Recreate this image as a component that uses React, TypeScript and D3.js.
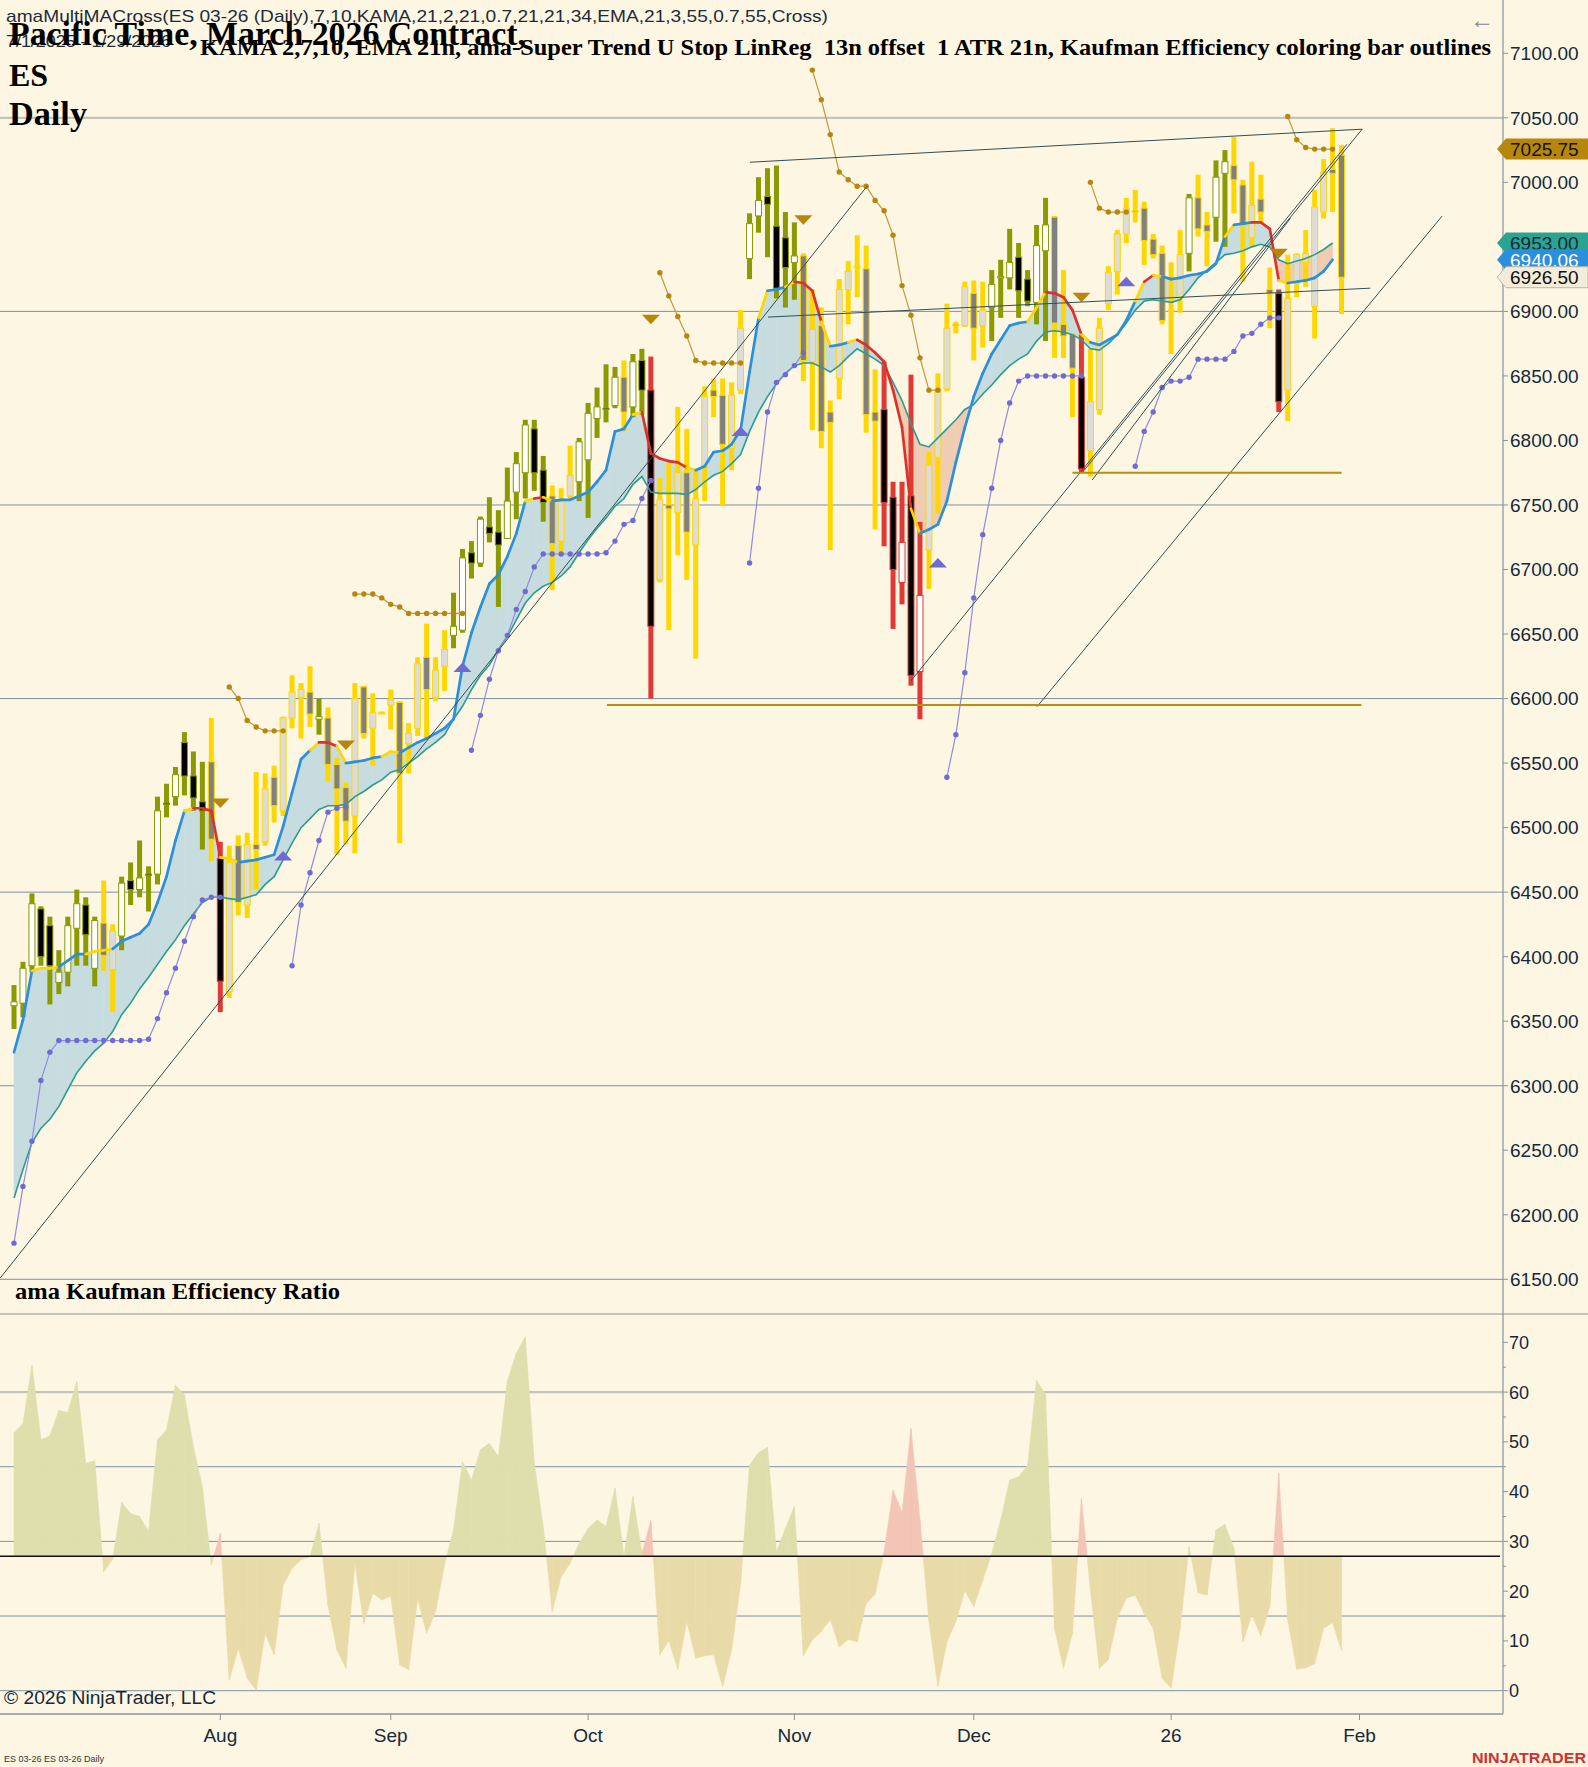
import { useEffect, useRef } from 'react';
import * as d3 from 'd3';

const W = 1588;
const H = 1767;
const BG = '#fdf6e3';

// daily bars, oldest first
const OPEN = [
  6362, 6364, 6393, 6437, 6424, 6380, 6388, 6422, 6440, 6391,
  6426, 6390, 6416, 6459, 6452, 6464, 6464, 6519, 6524, 6566,
  6540, 6520, 6551, 6476, 6373, 6486, 6440, 6487, 6489, 6539,
  6513, 6585, 6601, 6605, 6584, 6585, 6549, 6531, 6509, 6609,
  6577, 6589, 6595, 6597, 6565, 6577, 6632, 6601, 6625, 6649,
  6653, 6713, 6705, 6733, 6729, 6724, 6760, 6775, 6809, 6777,
  6757, 6722, 6757, 6768, 6785, 6817, 6825, 6827, 6849, 6826,
  6862, 6839, 6692, 6750, 6744, 6775, 6719, 6780, 6839, 6835,
  6794, 6839, 6941, 6974, 6989, 6966, 6957, 6938, 6943, 6861,
  6889, 6822, 6848, 6917, 6934, 6933, 6822, 6824, 6756, 6690,
  6757, 6621, 6715, 6787, 6840, 6890, 6889, 6914, 6889, 6903,
  6926, 6926, 6942, 6925, 6907, 6947, 6973, 6890, 6882, 6849,
  6792, 6824, 6906, 6931, 6960, 6978, 6980, 6956, 6945, 6900,
  6911, 6945, 6988, 6967, 6973, 7007, 7013, 6998, 6957, 6987,
  6917, 6914, 6839, 6922, 6938, 6904, 6977, 7010, 7021,
];
const HIGH = [
  6378, 6396, 6449, 6439, 6431, 6405, 6431, 6452, 6446, 6431,
  6459, 6425, 6462, 6473, 6490, 6470, 6524, 6534, 6547, 6574,
  6559, 6551, 6585, 6489, 6486, 6494, 6496, 6543, 6542, 6548,
  6586, 6618, 6612, 6625, 6600, 6593, 6554, 6535, 6612, 6610,
  6604, 6590, 6607, 6598, 6581, 6632, 6658, 6632, 6653, 6682,
  6716, 6722, 6741, 6756, 6746, 6779, 6791, 6816, 6816, 6788,
  6765, 6763, 6796, 6802, 6829, 6841, 6859, 6857, 6862, 6867,
  6871, 6865, 6771, 6782, 6826, 6809, 6776, 6842, 6848, 6848,
  6845, 6901, 6976, 7004, 7011, 7013, 6977, 6969, 6945, 6917,
  6903, 6831, 6925, 6939, 6959, 6951, 6855, 6861, 6768, 6768,
  6851, 6737, 6791, 6852, 6906, 6892, 6923, 6924, 6923, 6932,
  6940, 6964, 6953, 6932, 6967, 6988, 6974, 6932, 6883, 6882,
  6871, 6895, 6935, 6963, 6988, 6994, 6985, 6960, 6951, 6938,
  6963, 6991, 7006, 6977, 7017, 7025, 7035, 7002, 7016, 7006,
  6934, 6917, 6944, 6945, 6963, 6994, 7018, 7042, 7029,
];
const LOW = [
  6344, 6353, 6388, 6393, 6363, 6371, 6377, 6393, 6393, 6377,
  6389, 6357, 6405, 6440, 6446, 6435, 6456, 6508, 6517, 6525,
  6513, 6483, 6474, 6357, 6368, 6432, 6430, 6452, 6486, 6504,
  6509, 6577, 6569, 6578, 6572, 6536, 6479, 6487, 6480, 6569,
  6548, 6588, 6576, 6488, 6542, 6571, 6569, 6598, 6606, 6639,
  6651, 6693, 6702, 6721, 6671, 6724, 6739, 6755, 6761, 6737,
  6684, 6711, 6755, 6753, 6740, 6802, 6814, 6825, 6807, 6818,
  6820, 6600, 6690, 6653, 6711, 6692, 6631, 6753, 6818, 6750,
  6777, 6836, 6925, 6961, 6942, 6910, 6903, 6909, 6846, 6808,
  6794, 6715, 6832, 6890, 6911, 6806, 6731, 6718, 6654, 6673,
  6610, 6584, 6685, 6743, 6838, 6883, 6888, 6862, 6872, 6877,
  6895, 6917, 6895, 6904, 6890, 6877, 6864, 6864, 6818, 6775,
  6772, 6820, 6901, 6913, 6953, 6969, 6936, 6941, 6890, 6867,
  6899, 6931, 6958, 6935, 6954, 6950, 6976, 6923, 6950, 6969,
  6887, 6822, 6815, 6911, 6919, 6879, 6972, 6977, 6898,
];
const CLOSE = [
  6365, 6391, 6441, 6400, 6393, 6388, 6424, 6441, 6417, 6428,
  6401, 6420, 6457, 6452, 6461, 6463, 6513, 6518, 6541, 6540,
  6523, 6513, 6491, 6381, 6473, 6442, 6487, 6483, 6530, 6517,
  6585, 6605, 6607, 6588, 6586, 6549, 6530, 6505, 6600, 6573,
  6589, 6589, 6599, 6542, 6573, 6627, 6607, 6622, 6638, 6656,
  6709, 6705, 6739, 6728, 6719, 6753, 6782, 6812, 6775, 6752,
  6720, 6753, 6773, 6799, 6821, 6826, 6824, 6849, 6822, 6861,
  6839, 6656, 6754, 6747, 6775, 6729, 6755, 6834, 6834, 6797,
  6835, 6887, 6968, 6986, 6983, 6918, 6934, 6943, 6862, 6886,
  6807, 6814, 6917, 6931, 6935, 6820, 6815, 6752, 6700, 6721,
  6618, 6680, 6781, 6839, 6887, 6889, 6919, 6887, 6901, 6921,
  6927, 6938, 6916, 6908, 6951, 6967, 6891, 6881, 6856, 6778,
  6830, 6887, 6930, 6960, 6980, 6977, 6955, 6944, 6893, 6901,
  6944, 6988, 6964, 6962, 7004, 7016, 7002, 6967, 6982, 6977,
  6914, 6830, 6910, 6944, 6945, 6981, 7008, 7007, 6926.5,
];
// Kaufman efficiency outline class per bar: g up-efficient, r down-efficient, y inefficient
const BAR_CLASS_RUNS: [string, number][] = [
  ['g', 10], ['y', 2], ['g', 10], ['y', 1], ['r', 1], ['y', 10], ['g', 1], ['y', 14], ['g', 11], ['y', 3],
  ['g', 5], ['y', 1], ['g', 2], ['r', 1], ['y', 10], ['g', 6], ['y', 9], ['r', 5], ['y', 7], ['g', 7],
  ['y', 3], ['r', 1], ['y', 11], ['g', 1], ['y', 2], ['g', 2], ['y', 5], ['r', 1], ['y', 7],
];

const KAMA = [
  6326, 6351, 6389, 6391, 6391, 6392, 6397, 6402, 6402, 6404,
  6405, 6406, 6412, 6415, 6418, 6425, 6442, 6462, 6490, 6513,
  6515, 6515, 6513, 6477, 6476, 6473, 6474, 6475, 6477, 6479,
  6501, 6527, 6553, 6560, 6566, 6566, 6563, 6550, 6551, 6552,
  6554, 6555, 6559, 6558, 6562, 6566, 6569, 6573, 6577, 6584,
  6625, 6651, 6671, 6689, 6696, 6710, 6728, 6753, 6755, 6756,
  6753, 6754, 6754, 6757, 6760, 6768, 6777, 6807, 6809, 6820,
  6822, 6790, 6786, 6784, 6783, 6779, 6777, 6780, 6791, 6792,
  6797, 6808, 6853, 6895, 6916, 6917, 6919, 6923, 6922, 6916,
  6892, 6873, 6874, 6876, 6878, 6874, 6868, 6861, 6839, 6810,
  6747, 6728, 6731, 6735, 6753, 6783, 6810, 6834, 6852, 6867,
  6878, 6889, 6891, 6892, 6903, 6915, 6914, 6911, 6901, 6882,
  6876, 6874, 6878, 6882, 6893, 6908, 6923, 6928, 6927, 6925,
  6926, 6928, 6929, 6931, 6937, 6958, 6967, 6968, 6969, 6969,
  6964, 6924, 6922, 6923, 6924, 6926, 6931, 6940.06,
];
// KAMA segment colour ending at each bar: b rising, r falling, y flat
const KAMA_RUNS: [string, number][] = [
  ['b', 3], ['y', 3], ['b', 3], ['y', 3], ['b', 8], ['y', 1], ['r', 3], ['y', 2], ['b', 8], ['y', 1],
  ['r', 2], ['y', 1], ['b', 4], ['y', 2], ['b', 14], ['y', 1], ['r', 1], ['y', 1], ['b', 9], ['y', 1],
  ['r', 5], ['y', 1], ['b', 7], ['y', 1], ['b', 2], ['y', 1], ['r', 3], ['y', 1], ['b', 2], ['y', 1],
  ['r', 6], ['y', 1], ['b', 12], ['y', 2], ['r', 4], ['y', 1], ['b', 5], ['y', 1], ['r', 1], ['y', 1],
  ['b', 7], ['y', 1], ['b', 2], ['r', 3], ['y', 1], ['b', 5],
];
const EMA = [
  6213, 6235, 6256, 6267, 6274, 6284, 6297, 6310, 6319, 6327,
  6333, 6342, 6355, 6364, 6375, 6384, 6394, 6404, 6413, 6424,
  6433, 6442, 6446, 6446, 6445, 6444, 6446, 6448, 6456, 6462,
  6475, 6488, 6500, 6507, 6514, 6517, 6517, 6518, 6524, 6528,
  6533, 6537, 6543, 6545, 6550, 6555, 6561, 6566, 6572, 6584,
  6594, 6607, 6618, 6626, 6638, 6648, 6661, 6674, 6682, 6687,
  6690, 6695, 6702, 6713, 6723, 6732, 6740, 6749, 6755, 6766,
  6772, 6760, 6759, 6759, 6759, 6758, 6762, 6768, 6773, 6776,
  6782, 6789, 6807, 6822, 6834, 6844, 6852, 6858, 6860, 6860,
  6857, 6853, 6858, 6865, 6871, 6867, 6863, 6858, 6845, 6831,
  6813, 6797, 6795, 6802, 6809, 6816, 6824, 6828, 6836, 6843,
  6851, 6858, 6863, 6867, 6877, 6884, 6885, 6884, 6882, 6878,
  6871, 6870, 6875, 6882, 6891, 6901, 6908, 6909, 6908, 6907,
  6909, 6917, 6926, 6932, 6938, 6944, 6945, 6947, 6950, 6952,
  6950, 6940, 6937, 6939, 6941, 6944, 6948, 6953,
];
// super trend stop; p = long stop under price, g = short stop over price
const STOP = [
  6178, 6222, 6257, 6304, 6326, 6335, 6335, 6335, 6335, 6335,
  6335, 6335, 6335, 6335, 6335, 6336, 6352, 6372, 6391, 6412,
  6431, 6444, 6446, 6446, 6609, 6600, 6583, 6578, 6575, 6575,
  6575, 6393, 6440, 6465, 6490, 6512, 6515, 6516, 6681, 6681,
  6681, 6678, 6673, 6671, 6666, 6666, 6666, 6666, 6666, 6666,
  6666, 6560, 6587, 6615, 6637, 6649, 6669, 6683, 6702, 6712,
  6712, 6712, 6712, 6712, 6712, 6712, 6713, 6722, 6735, 6738,
  6755, 6769, 6930, 6912, 6896, 6881, 6862, 6860, 6860, 6860,
  6860, 6860, 6705, 6763, 6822, 6845, 6851, 6858, 6868, 7087,
  7064, 7037, 7008, 7002, 6997, 6997, 6986, 6978, 6959, 6920,
  6897, 6864, 6839, 6839, 6539, 6572, 6620, 6678, 6727, 6763,
  6800, 6829, 6846, 6850, 6850, 6850, 6850, 6850, 6850, 6850,
  7000, 6980, 6977, 6977, 6977, 6780, 6807, 6822, 6841, 6846,
  6846, 6849, 6863, 6863, 6863, 6863, 6869, 6881, 6883, 6890,
  6895, 6895, 7051, 7033, 7027, 7025.75, 7025.75, 7025.75,
];
const STOP_RUNS: [string, number][] = [
  ['p', 24], ['g', 7], ['p', 7], ['g', 13], ['p', 21], ['g', 10], ['p', 7], ['g', 15], ['p', 16], ['g', 5], ['p', 17], ['g', 6],
];
// trend flips (bar number, price, direction)
const FLIP_BARS = [24, 31, 38, 51, 72, 82, 89, 104, 120, 125, 142];
const FLIP_PRICES = [6519, 6478, 6564, 6624, 6894, 6807, 6971, 6705, 6911, 6923, 6945];
const FLIP_DIRS = ['down', 'up', 'down', 'up', 'down', 'up', 'down', 'up', 'down', 'up', 'down'];

// drawn trend/channel lines: [bar0, price0, bar1, price1] (bar is 0-based position)
const TREND_LINES: [number, number, number, number][] = [
  [-1.56, 6150.8, 95.1, 6997],
  [82.05, 7015.6, 150.3, 7041.2],
  [84.06, 6895.6, 151.2, 6918],
  [100.0, 6613.8, 148.6, 7029.5],
  [119.06, 6774.8, 150.3, 7041.2],
  [120.2, 6769.4, 142.3, 6972.2],
  [114.05, 6593.7, 159.2, 6973.8],
];
const LEVEL_PRICES = [6595, 6775];
const LEVEL_FROM = [66.1, 118];
const LEVEL_TO = [150.2, 148];

const EFFICIENCY = [
  51.8, 53.7, 65.4, 50.4, 51.2, 56.3, 55.9, 62.1, 45.7, 46.2,
  23.9, 26.4, 37.8, 35.6, 35, 32, 50.4, 52.4, 61.4, 59.4,
  49, 41, 25.3, 31.6, 2.1, 8.5, 2.5, 0.1, 11.5, 7.2,
  21.2, 24.6, 26.3, 26.9, 33.6, 17.2, 8.2, 4.5, 25.6, 13.5,
  19.6, 18.2, 19, 5.2, 4.2, 18.5, 11.5, 15.9, 25.3, 32.3,
  46, 42.3, 48.4, 49.7, 47, 62.1, 67.8, 71.1, 45.7, 33,
  15.9, 22.9, 25.6, 29.6, 32.6, 34.3, 33, 40.7, 26.9, 39,
  27.6, 34.2, 7.2, 10.1, 4.3, 13.9, 6.5, 7, 7.2, 0.8,
  8.2, 21.5, 45.3, 47.8, 48.9, 27.9, 32.6, 37, 7, 10.2,
  11.9, 14.3, 8.8, 10.3, 9.8, 17.5, 19.4, 27.8, 40.3, 35.8,
  52.7, 34.3, 13.9, 0.8, 9.8, 13.9, 20.1, 16.9, 22.2, 27.5,
  34.3, 42.3, 43, 45.3, 62.4, 59.4, 12.5, 4.5, 11.5, 38.6,
  20.2, 4.5, 6.2, 14.5, 18.6, 19.2, 15.5, 12.5, 2.5, 0.5,
  12.5, 28.9, 19.7, 19.2, 32.3, 33.4, 28.6, 9.8, 15.2, 11,
  16.9, 43.7, 14.2, 4.3, 4.6, 5.4, 12.5, 13.7, 8,
];
const EFF_THRESHOLD = 27;

const MONTH_POS = [23, 42, 64, 87, 107, 129, 150];
const MONTH_LABELS = ['Aug', 'Sep', 'Oct', 'Nov', 'Dec', '26', 'Feb'];

const BAR_COLORS: Record<string, string> = { g: '#8a9a00', y: '#ffd700', r: '#e03a36' };
const KAMA_COLORS: Record<string, string> = { b: '#2b8fdc', r: '#e0302c', y: '#ffd700' };
const SANS = '"Liberation Sans", Arial, sans-serif';
const SERIF = '"Liberation Serif", "Times New Roman", serif';

const expand = (runs: [string, number][]) => runs.flatMap(([c, k]) => Array(k).fill(c) as string[]);

type Seg = { pts: [number, number][]; up: boolean; owner: number };
// polygons between two series, split where they cross
function splitBand(xs: number[], a: number[], b: number[]): Seg[] {
  const out: Seg[] = [];
  for (let i = 0; i < xs.length - 1; i++) {
    const d0 = a[i] - b[i];
    const d1 = a[i + 1] - b[i + 1];
    if (d0 * d1 >= 0) {
      out.push({
        pts: [[xs[i], a[i]], [xs[i + 1], a[i + 1]], [xs[i + 1], b[i + 1]], [xs[i], b[i]]],
        up: d0 + d1 >= 0,
        owner: Math.abs(d0) >= Math.abs(d1) ? i : i + 1,
      });
    } else {
      const t = d0 / (d0 - d1);
      const xm = xs[i] + t * (xs[i + 1] - xs[i]);
      const vm = a[i] + t * (a[i + 1] - a[i]);
      out.push({ pts: [[xs[i], a[i]], [xm, vm], [xs[i], b[i]]], up: d0 > 0, owner: i });
      out.push({ pts: [[xm, vm], [xs[i + 1], a[i + 1]], [xs[i + 1], b[i + 1]]], up: d1 > 0, owner: i + 1 });
    }
  }
  return out;
}

export default function App() {
  const svgRef = useRef<SVGSVGElement>(null);

  useEffect(() => {
    const svg = d3.select(svgRef.current!);
    svg.selectAll('*').remove();

    const n = CLOSE.length;
    const plotRight = 1503;
    const x = d3.scaleLinear().domain([0, 148]).range([14, 14 + 148 * 8.97]);
    const y = d3.scaleLinear().domain([6150, 7100]).range([1279.3, 53.3]);
    const ye = d3.scaleLinear().domain([0, 70]).range([1690.7, 1342.3]);
    const cls = expand(BAR_CLASS_RUNS);
    const kcol = expand(KAMA_RUNS);

    svg.append('rect').attr('width', W).attr('height', H).attr('fill', BG);

    const defs = svg.append('defs');
    defs.append('clipPath').attr('id', 'mainClip').append('rect')
      .attr('x', 0).attr('y', 0).attr('width', plotRight).attr('height', 1286);
    defs.append('clipPath').attr('id', 'effClip').append('rect')
      .attr('x', 0).attr('y', 1314).attr('width', plotRight).attr('height', 400);

    // Grid lines
    const grid = svg.append('g');
    d3.range(6150, 7051, 150).forEach((v) => {
      const light = v === 7050;
      grid.append('line').attr('x1', 0).attr('x2', plotRight).attr('y1', y(v)).attr('y2', y(v))
        .attr('stroke', light ? '#c3c5bb' : '#7f929e').attr('stroke-width', light ? 2.2 : 1);
    });
    [0, 15, 30, 45].forEach((v) => {
      grid.append('line').attr('x1', 0).attr('x2', plotRight).attr('y1', ye(v)).attr('y2', ye(v))
        .attr('stroke', '#7f929e').attr('stroke-width', 1);
    });
    grid.append('line').attr('x1', 0).attr('x2', plotRight).attr('y1', ye(60)).attr('y2', ye(60))
      .attr('stroke', '#c3c5bb').attr('stroke-width', 2.2);
    grid.append('line').attr('x1', 0).attr('x2', W).attr('y1', 1314).attr('y2', 1314)
      .attr('stroke', '#c3c5bb').attr('stroke-width', 2.2);

    const main = svg.append('g').attr('clip-path', 'url(#mainClip)');

    // KAMA / EMA band
    const kx = KAMA.map((_, i) => x(i));
    main.append('g').selectAll('path').data(splitBand(kx, KAMA, EMA)).join('path')
      .attr('d', (s) => 'M' + s.pts.map(([px, v]) => `${px},${y(v)}`).join('L') + 'Z')
      .attr('fill', (s) => (s.up ? '#c7dcdf' : '#f0cdb2'))
      .attr('stroke', (s) => (s.up ? '#c7dcdf' : '#f0cdb2')).attr('stroke-width', 0.6);

    // Candles
    const idx = d3.range(n);
    const candles = main.append('g');
    candles.selectAll('rect.wick').data(idx).join('rect').attr('class', 'wick')
      .attr('x', (i) => x(i) - 2.5).attr('width', 5)
      .attr('y', (i) => y(HIGH[i])).attr('height', (i) => Math.max(1.5, y(LOW[i]) - y(HIGH[i])))
      .attr('fill', (i) => BAR_COLORS[cls[i]]);
    candles.selectAll('rect.body').data(idx).join('rect').attr('class', 'body')
      .attr('x', (i) => x(i) - 3).attr('width', 6)
      .attr('y', (i) => y(Math.max(OPEN[i], CLOSE[i])))
      .attr('height', (i) => Math.max(1.2, Math.abs(y(OPEN[i]) - y(CLOSE[i]))))
      .attr('fill', (i) => {
        const up = CLOSE[i] >= OPEN[i];
        if (cls[i] === 'y') return up ? '#dcdcdc' : '#808080';
        return up ? '#ffffff' : '#000000';
      })
      .attr('stroke', (i) => BAR_COLORS[cls[i]]).attr('stroke-width', 1);

    // EMA 21
    main.append('path')
      .attr('d', d3.line<number>().x((_, i) => x(i)).y((v) => y(v))(EMA) ?? '')
      .attr('fill', 'none').attr('stroke', '#2a9d90').attr('stroke-width', 1.6);

    // KAMA coloured segments
    main.append('g').selectAll('line').data(d3.range(1, KAMA.length)).join('line')
      .attr('x1', (i) => x(i - 1)).attr('y1', (i) => y(KAMA[i - 1]))
      .attr('x2', (i) => x(i)).attr('y2', (i) => y(KAMA[i]))
      .attr('stroke', (i) => KAMA_COLORS[kcol[i]]).attr('stroke-width', 2.7).attr('stroke-linecap', 'round');

    // Super trend stops
    const stopG = main.append('g');
    let start = 0;
    STOP_RUNS.forEach(([s, len]) => {
      const run = d3.range(start, start + len);
      const col = s === 'p' ? '#6f6bd0' : '#b8860b';
      stopG.append('path')
        .attr('d', d3.line<number>().x((i) => x(i)).y((i) => y(STOP[i]))(run) ?? '')
        .attr('fill', 'none').attr('stroke', s === 'p' ? '#8f8ce0' : '#c09a3a').attr('stroke-width', 1.2);
      stopG.selectAll(null).data(run).join('circle')
        .attr('cx', (i) => x(i)).attr('cy', (i) => y(STOP[i])).attr('r', 2.7).attr('fill', col);
      start += len;
    });

    // Trend flip markers
    main.append('g').selectAll('path').data(FLIP_BARS.map((_, k) => k)).join('path')
      .attr('d', (k) => {
        const cx = x(FLIP_BARS[k] - 1);
        const cy = y(FLIP_PRICES[k]);
        return FLIP_DIRS[k] === 'down'
          ? `M${cx - 9},${cy - 4.5}L${cx + 9},${cy - 4.5}L${cx},${cy + 5}Z`
          : `M${cx - 9},${cy + 4.5}L${cx + 9},${cy + 4.5}L${cx},${cy - 5}Z`;
      })
      .attr('fill', (k) => (FLIP_DIRS[k] === 'down' ? '#b8860b' : '#6f6bd0'));

    // Drawn lines
    main.append('g').selectAll('line').data(TREND_LINES).join('line')
      .attr('x1', (d) => x(d[0])).attr('y1', (d) => y(d[1]))
      .attr('x2', (d) => x(d[2])).attr('y2', (d) => y(d[3]))
      .attr('stroke', '#2f4f55').attr('stroke-width', 1);
    main.append('g').selectAll('line').data(LEVEL_PRICES).join('line')
      .attr('x1', (_, k) => x(LEVEL_FROM[k])).attr('x2', (_, k) => x(LEVEL_TO[k]))
      .attr('y1', (v) => y(v)).attr('y2', (v) => y(v))
      .attr('stroke', '#b8900b').attr('stroke-width', 2);

    // Efficiency ratio panel
    const eff = svg.append('g').attr('clip-path', 'url(#effClip)');
    const ex = EFFICIENCY.map((_, i) => x(i));
    const effFill = (s: Seg) => (!s.up ? '#e9dba8' : cls[s.owner] === 'r' ? '#f3c5b7' : '#dedfac');
    eff.selectAll('path').data(splitBand(ex, EFFICIENCY, EFFICIENCY.map(() => EFF_THRESHOLD))).join('path')
      .attr('d', (s) => 'M' + s.pts.map(([px, v]) => `${px},${ye(v)}`).join('L') + 'Z')
      .attr('fill', effFill).attr('stroke', effFill).attr('stroke-width', 0.6);
    svg.append('line').attr('x1', 0).attr('x2', 1500).attr('y1', ye(EFF_THRESHOLD)).attr('y2', ye(EFF_THRESHOLD))
      .attr('stroke', '#111').attr('stroke-width', 1.5);

    // Axes
    const axisCol = '#8494a0';
    const labelCol = '#15293b';
    const ax = svg.append('g');
    ax.append('line').attr('x1', plotRight).attr('x2', plotRight).attr('y1', 0).attr('y2', 1714)
      .attr('stroke', axisCol).attr('stroke-width', 1.2);
    d3.range(6150, 7101, 50).forEach((v) => {
      ax.append('line').attr('x1', plotRight).attr('x2', plotRight + 5).attr('y1', y(v)).attr('y2', y(v))
        .attr('stroke', axisCol);
      ax.append('text').attr('x', 1510).attr('y', y(v)).attr('dy', '0.36em')
        .attr('font-family', SANS).attr('font-size', 19).attr('fill', labelCol).text(v.toFixed(2));
    });
    d3.range(0, 71, 5).forEach((v) => {
      const major = v % 10 === 0;
      ax.append('line').attr('x1', plotRight).attr('x2', plotRight + (major ? 5 : 3)).attr('y1', ye(v)).attr('y2', ye(v))
        .attr('stroke', axisCol);
      if (major) {
        ax.append('text').attr('x', 1509).attr('y', ye(v)).attr('dy', '0.36em')
          .attr('font-family', SANS).attr('font-size', 18).attr('fill', labelCol).text(String(v));
      }
    });
    ax.append('line').attr('x1', 0).attr('x2', plotRight).attr('y1', 1714).attr('y2', 1714)
      .attr('stroke', '#a4adb3').attr('stroke-width', 2);
    MONTH_POS.forEach((p, k) => {
      ax.append('line').attr('x1', x(p)).attr('x2', x(p)).attr('y1', 1714).attr('y2', 1720).attr('stroke', axisCol);
      ax.append('text').attr('x', x(p)).attr('y', 1742).attr('text-anchor', 'middle')
        .attr('font-family', SANS).attr('font-size', 19).attr('fill', labelCol).text(MONTH_LABELS[k]);
    });

    // Last-value markers on the price axis
    const marker = (v: number, fill: string, color: string, stroke = 'none') => {
      const yc = y(v);
      ax.append('path')
        .attr('d', `M1497,${yc}L1506,${yc - 10.5}L1588,${yc - 10.5}L1588,${yc + 10.5}L1506,${yc + 10.5}Z`)
        .attr('fill', fill).attr('stroke', stroke);
      ax.append('text').attr('x', 1510).attr('y', yc).attr('dy', '0.37em')
        .attr('font-family', SANS).attr('font-size', 19).attr('fill', color).text(v.toFixed(2));
    };
    marker(STOP[STOP.length - 1], '#b8860b', '#111');
    marker(EMA[EMA.length - 1], '#2aa294', '#0f2a35');
    marker(KAMA[KAMA.length - 1], '#2b8fdc', '#ffffff');
    marker(CLOSE[n - 1], '#f3ecd8', '#111', '#b9b5aa');

    // Titles and labels
    const t = svg.append('g');
    t.append('text').attr('x', 6).attr('y', 22).attr('font-family', SANS).attr('font-size', 17)
      .attr('fill', '#1e2c3a').attr('textLength', 822).attr('lengthAdjust', 'spacingAndGlyphs')
      .text('amaMultiMACross(ES 03-26 (Daily),7,10,KAMA,21,2,21,0.7,21,21,34,EMA,21,3,55,0.7,55,Cross)');
    t.append('text').attr('x', 6).attr('y', 47).attr('font-family', SANS).attr('font-size', 17)
      .attr('fill', '#1e2c3a').attr('textLength', 165).attr('lengthAdjust', 'spacingAndGlyphs')
      .text('7/1/2025 - 1/29/2026');
    t.append('text').attr('x', 9).attr('y', 45).attr('font-family', SERIF).attr('font-size', 33)
      .attr('font-weight', 'bold').attr('fill', '#000').attr('textLength', 517).attr('lengthAdjust', 'spacingAndGlyphs')
      .text('Pacific Time, March 2026 Contract,');
    t.append('text').attr('x', 200).attr('y', 55).attr('font-family', SERIF).attr('font-size', 23)
      .attr('font-weight', 'bold').attr('fill', '#000').attr('textLength', 1291).attr('lengthAdjust', 'spacingAndGlyphs')
      .style('white-space', 'pre')
      .text('KAMA 2,7,10, EMA 21n, ama-Super Trend U Stop LinReg  13n offset  1 ATR 21n, Kaufman Efficiency coloring bar outlines');
    t.append('text').attr('x', 9).attr('y', 86).attr('font-family', SERIF).attr('font-size', 32)
      .attr('font-weight', 'bold').attr('fill', '#000').text('ES');
    t.append('text').attr('x', 9).attr('y', 125).attr('font-family', SERIF).attr('font-size', 33)
      .attr('font-weight', 'bold').attr('fill', '#000').attr('textLength', 78).attr('lengthAdjust', 'spacingAndGlyphs')
      .text('Daily');
    t.append('text').attr('x', 1470).attr('y', 28).attr('font-family', SANS).attr('font-size', 24)
      .attr('fill', '#7d8b97').text('←');
    t.append('text').attr('x', 15).attr('y', 1299).attr('font-family', SERIF).attr('font-size', 23)
      .attr('font-weight', 'bold').attr('fill', '#000').attr('textLength', 325).attr('lengthAdjust', 'spacingAndGlyphs')
      .text('ama Kaufman Efficiency Ratio');
    t.append('text').attr('x', 4).attr('y', 1704).attr('font-family', SANS).attr('font-size', 18)
      .attr('fill', '#15293b').attr('textLength', 212).attr('lengthAdjust', 'spacingAndGlyphs')
      .text('© 2026 NinjaTrader, LLC');
    t.append('text').attr('x', 4).attr('y', 1762).attr('font-family', SANS).attr('font-size', 9)
      .attr('fill', '#333').text('ES 03-26 ES 03-26 Daily');
    t.append('text').attr('x', 1472).attr('y', 1763).attr('font-family', SANS).attr('font-size', 15)
      .attr('font-weight', 'bold').attr('fill', '#d32f2f').attr('textLength', 114).attr('lengthAdjust', 'spacingAndGlyphs')
      .text('NINJATRADER');
  }, []);

  return (
    <svg
      ref={svgRef}
      width={W}
      height={H}
      style={{ position: 'absolute', left: 0, top: 0, display: 'block' }}
      role="img"
      aria-label="ES daily chart with KAMA, EMA, super trend and Kaufman efficiency ratio"
    />
  );
}
